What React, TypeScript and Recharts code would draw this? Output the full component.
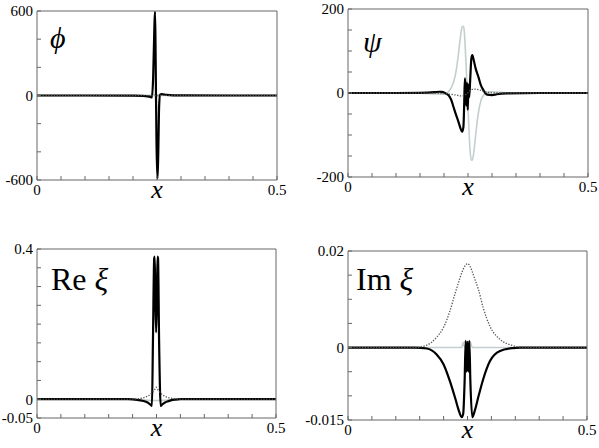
import React from 'react';
import { LineChart, Line, XAxis, YAxis } from 'recharts';

const W = 599;
const H = 448;
const SERIF = 'Liberation Serif';

const xTicks = [0, 0.05, 0.1, 0.15, 0.2, 0.25, 0.3, 0.35, 0.4, 0.45, 0.5];
const xLabels = [0, 0.5];

// phi panel
const phiX = [0, 0.1, 0.2, 0.22, 0.23, 0.236, 0.2395, 0.242, 0.2445, 0.2458, 0.2468, 0.2479, 0.249, 0.251, 0.2525, 0.2545, 0.2565, 0.26, 0.27, 0.3, 0.4, 0.5];
const phiBlack = [0, 0, -1, -3, -6, -10, -14, 130, 480, 595, 400, 0, -340, -590, -430, -70, 6, 10, 5, 1, 0, 0];
const phiGray = [0, 0, 0, 0, 1, 2, 3, 4, 6, 6, 4, 0, -4, -7, -6, -3, -1, 0, 0, 0, 0, 0];
const phiDot = [0, 0, 0, -0.5, -1, -1.5, -2, -2, -2, -1.5, -1, 0, 1, 1.5, 2, 2, 1.5, 1, 0.5, 0, 0, 0];
const phiTicks = [-600, -400, -200, 0, 200, 400, 600];
const phiLabels = [-600, 0, 600];

// psi panel
const psiX = [0, 0.1, 0.15, 0.18, 0.19, 0.195, 0.2, 0.205, 0.209, 0.215, 0.22, 0.226, 0.23, 0.235, 0.238, 0.2405, 0.242, 0.2435, 0.245, 0.2465, 0.248, 0.2495, 0.251, 0.2525, 0.2545, 0.257, 0.259, 0.262, 0.266, 0.2715, 0.277, 0.282, 0.29, 0.3, 0.31, 0.33, 0.4, 0.5];
const psiBlack = [0, 0, 0.5, 2, 3, 2.5, 1, -2, -5, -16, -34, -55, -68, -86, -92, -80, -30, 35, 10, -30, 25, -40, 20, -10, 30, 82, 90, 78, 58, 39, 18, 7, -4, -5, -3, -1, 0, 0];
const psiGray = [0, 0, -0.5, -2, -2.5, -3, -2.5, -1, 3, 12, 26, 58, 92, 140, 158, 159, 150, 125, 90, 55, 15, -25, -60, -100, -140, -160, -159, -142, -100, -48, -18, -6, 2, 3, 2, 0.5, 0, 0];
const psiDot = [0, 0, 0, -0.5, -1, -1, -1.5, -2, -2.5, -3, -4, -5, -6, -7, -7, -6.5, -6, -5, -4, -3, -1.5, 0, 2, 4, 6, 8, 8.5, 9, 9, 8, 6, 4, 2, 0.5, 0, 0, 0, 0];
const psiTicks = [-200, -150, -100, -50, 0, 50, 100, 150, 200];
const psiLabels = [-200, 0, 200];

// Re xi panel
const reX = [0, 0.1, 0.19, 0.2, 0.21, 0.22, 0.228, 0.234, 0.238, 0.2405, 0.2425, 0.2452, 0.2462, 0.2474, 0.2492, 0.251, 0.2522, 0.2532, 0.2555, 0.2588, 0.262, 0.267, 0.273, 0.28, 0.29, 0.3, 0.31, 0.4, 0.5];
const reBlack = [0, 0, 0, -0.0006, -0.002, -0.004, -0.007, -0.011, -0.015, -0.018, 0.15, 0.375, 0.38, 0.28, 0.178, 0.28, 0.38, 0.375, 0.15, -0.018, -0.014, -0.0095, -0.006, -0.003, -0.001, 0, 0, 0, 0];
const reGray = [0, 0, 0, 0, -0.0005, -0.001, -0.002, -0.003, -0.003, -0.0035, -0.0035, -0.0035, -0.0035, -0.0035, -0.0035, -0.0035, -0.0035, -0.0035, -0.0035, -0.0035, -0.003, -0.003, -0.002, -0.001, -0.0005, 0, 0, 0, 0];
const reDot = [0, 0, 0, 0, 0.001, 0.003, 0.006, 0.01, 0.014, 0.017, 0.02, 0.024, 0.026, 0.028, 0.032, 0.029, 0.027, 0.025, 0.021, 0.016, 0.012, 0.008, 0.005, 0.003, 0.001, 0, 0, 0, 0];
const reTicks = [-0.05, 0, 0.05, 0.1, 0.15, 0.2, 0.25, 0.3, 0.35, 0.4];
const reLabels = [-0.05, 0, 0.4];

// Im xi panel
const imX = [0, 0.1, 0.14, 0.165, 0.185, 0.2, 0.213, 0.224, 0.231, 0.238, 0.241, 0.244, 0.2462, 0.2482, 0.25, 0.2518, 0.2538, 0.256, 0.26, 0.266, 0.273, 0.283, 0.297, 0.318, 0.345, 0.36, 0.4, 0.5];
const imBlack = [0, 0, 0, -0.0002, -0.0014, -0.0035, -0.0069, -0.0104, -0.0128, -0.0144, -0.0137, -0.0069, 0.0014, -0.005, 0.0012, -0.005, 0.0014, -0.007, -0.0144, -0.0128, -0.0101, -0.0065, -0.0028, -0.0007, -0.0001, 0, 0, 0];
const imGray = [0, 0, 0, 0, 0, 0, 0, 0, 0, 0, 0.0011, 0, 0, 0, 0, 0, 0, 0.0011, 0, 0, 0, 0, 0, 0, 0, 0, 0, 0];
const imDot = [0, 0, 0, 0.0005, 0.0021, 0.0042, 0.0075, 0.0112, 0.0134, 0.0155, 0.0162, 0.0168, 0.0171, 0.0173, 0.0174, 0.0173, 0.0171, 0.0167, 0.0157, 0.014, 0.012, 0.0082, 0.0044, 0.0017, 0.0004, 0.0001, 0, 0];
const imTicks = [-0.015, -0.01, -0.005, 0, 0.005, 0.01, 0.015, 0.02];
const imLabels = [-0.015, 0, 0.02];

type PanelProps = {
  box: [number, number, number, number];
  xs: number[];
  black: number[];
  gray: number[];
  dot: number[];
  yTicks: number[];
  yLabels: number[];
};

const AXIS = '#666';
const tickStyle = { fontSize: 15, fill: '#000', fontFamily: SERIF };

function Panel({ box, xs, black, gray, dot, yTicks, yLabels }: PanelProps) {
  const [l, t, r, b] = box;
  const data = xs.map((x, i) => ({ x, b: black[i], g: gray[i], d: dot[i] }));
  const yDomain = [yTicks[0], yTicks[yTicks.length - 1]];
  return (
    <div style={{ position: 'absolute', left: 0, top: 0 }}>
      <LineChart
        width={W}
        height={H}
        data={data}
        style={{ fontFamily: SERIF }}
        margin={{ left: l - 30, top: t - 5, right: W - r - 10, bottom: H - b - 20 }}
      >
        <XAxis
          dataKey="x"
          type="number"
          domain={[0, 0.5]}
          ticks={xTicks}
          interval={0}
          tickSize={-4}
          tickMargin={8}
          height={20}
          stroke={AXIS}
          tick={tickStyle}
          tickFormatter={(v: number) => (xLabels.includes(v) ? String(v) : '')}
          allowDataOverflow
          label={{ value: 'x', position: 'insideBottom', offset: 2, fontSize: 26, fontStyle: 'italic', fontFamily: SERIF, fill: '#000' }}
        />
        <XAxis
          xAxisId="top"
          orientation="top"
          dataKey="x"
          type="number"
          domain={[0, 0.5]}
          ticks={xTicks}
          interval={0}
          tickSize={-4}
          height={5}
          stroke={AXIS}
          tick={false}
          allowDataOverflow
        />
        <YAxis
          type="number"
          domain={yDomain}
          ticks={yTicks}
          interval={0}
          tickSize={-4}
          tickMargin={8}
          width={30}
          stroke={AXIS}
          tick={tickStyle}
          tickFormatter={(v: number) => (yLabels.includes(v) ? String(v) : '')}
          allowDataOverflow
        />
        <YAxis
          yAxisId="right"
          orientation="right"
          type="number"
          domain={yDomain}
          ticks={yTicks}
          interval={0}
          tickSize={-4}
          width={10}
          stroke={AXIS}
          tick={false}
          allowDataOverflow
        />
        <Line xAxisId="top" yAxisId="right" dataKey="g" type="monotone" stroke="#c3cfcf" strokeWidth={1.6} dot={false} activeDot={false} isAnimationActive={false} />
        <Line dataKey="b" type="monotone" stroke="#000" strokeWidth={2.2} dot={false} activeDot={false} isAnimationActive={false} />
        <Line dataKey="d" type="monotone" stroke="#555" strokeWidth={1.3} strokeDasharray="1.3 1.5" dot={false} activeDot={false} isAnimationActive={false} />
      </LineChart>
    </div>
  );
}

const titleStyle: React.CSSProperties = {
  position: 'absolute',
  fontFamily: SERIF,
  lineHeight: 1,
  color: '#000',
  whiteSpace: 'nowrap',
};

export default function App() {
  return (
    <div style={{ position: 'absolute', left: 0, top: 0, width: W, height: H, background: '#fff', overflow: 'hidden', fontFamily: SERIF }}>
      <Panel box={[37, 11, 277, 180]} xs={phiX} black={phiBlack} gray={phiGray} dot={phiDot} yTicks={phiTicks} yLabels={phiLabels} />
      <Panel box={[348, 9, 588, 177]} xs={psiX} black={psiBlack} gray={psiGray} dot={psiDot} yTicks={psiTicks} yLabels={psiLabels} />
      <Panel box={[37, 249, 276, 418]} xs={reX} black={reBlack} gray={reGray} dot={reDot} yTicks={reTicks} yLabels={reLabels} />
      <Panel box={[348, 251, 587, 420]} xs={imX} black={imBlack} gray={imGray} dot={imDot} yTicks={imTicks} yLabels={imLabels} />
      <div style={{ ...titleStyle, left: 50, top: 23, fontSize: 30, fontStyle: 'italic' }}>ϕ</div>
      <div style={{ ...titleStyle, left: 363, top: 27, fontSize: 30, fontStyle: 'italic' }}>ψ</div>
      <div style={{ ...titleStyle, left: 51, top: 263, fontSize: 32 }}>Re <span style={{ fontStyle: 'italic' }}>ξ</span></div>
      <div style={{ ...titleStyle, left: 356, top: 263, fontSize: 32 }}>Im <span style={{ fontStyle: 'italic' }}>ξ</span></div>
    </div>
  );
}
